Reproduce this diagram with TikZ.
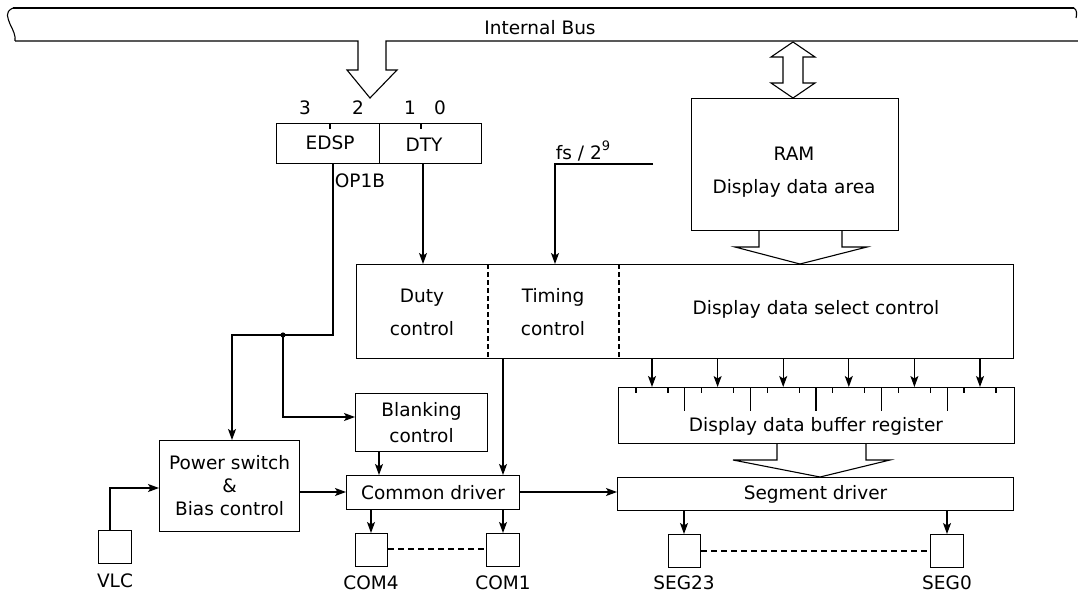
\documentclass[tikz,border=0pt]{standalone}
\usepackage{fontspec}
\setmainfont{DejaVu Sans}
\usetikzlibrary{arrows.meta}
\tikzset{
  ln/.style={line width=1.1pt},
  arr/.style={ln,-{Stealth[length=11pt,width=8pt,inset=2.5pt]}},
  box/.style={draw,ln,rectangle,inner sep=0pt,anchor=north west,align=center},
  txt/.style={inner sep=0pt,align=center},
  fatarrow/.style={ln,fill=white,line join=miter},
}
\begin{document}
\begin{tikzpicture}[x=1pt,y=-1pt,font=\fontsize{18.5}{21}\selectfont]
\useasboundingbox (0,0) rectangle (1078,594);
% internal bus
\draw[ln] (13,8) -- (1074,8);
\draw[ln] (13,8) .. controls (4,12) and (8,18) .. (10,24) .. controls (13,30) and (16,36) .. (15,41);
\draw[ln] (15,41) -- (358,41) -- (358,70) -- (347,70) -- (370,98) -- (397,70) -- (386,70) -- (386,41) -- (1078,41);
\draw[ln] (1074,8) .. controls (1077,10) and (1077,14) .. (1076,18);
\node[txt] (bus) at (540,28) {Internal Bus};
% RAM double arrow
\coordinate (rtop) at (793,42);
\draw[fatarrow] (rtop) -- (815,57) -- (803,57) -- (803,83) -- (815,83) -- (793,98) -- (771,83) -- (783,83) -- (783,57) -- (771,57) -- cycle;
% RAM
\node[box,minimum width=207pt,minimum height=132pt] (ram) at (691,98) {};
\node[txt] (ramt) at (794,154) {RAM};
\node[txt] (ramd) at (794,188) {Display data area};
% OP1B register
\node[box,minimum width=103pt,minimum height=40pt] (edsp) at (276,123) {};
\node[box,minimum width=102pt,minimum height=40pt] (dty) at (379,123) {};
\node[txt] (edspt) at (330,143) {EDSP};
\node[txt] (dtyt) at (424,145) {DTY};
\draw[ln] (330,0 |- edsp.north) -- ++(0,6);
\draw[ln] (421,0 |- dty.north) -- ++(0,6);
\node[txt] (b3) at (305,108) {3};
\node[txt] (b2) at (358,108) {2};
\node[txt] (b1) at (410,108) {1};
\node[txt] (b0) at (440,108) {0};
\node[txt] (op) at (360,181) {OP1B};
% fs
\node[txt] (fs) at (583,151) {fs / 2\raisebox{0.45em}{\fontsize{13}{15}\selectfont 9}};
% control box
\node[box,minimum width=657pt,minimum height=94pt] (ctl) at (356,264) {};
\draw[ln,dashed,dash pattern=on 5pt off 3pt] (488,0 |- ctl.north) -- (488,0 |- ctl.south);
\draw[ln,dashed,dash pattern=on 5pt off 3pt] (619,0 |- ctl.north) -- (619,0 |- ctl.south);
\node[txt] (duty) at (422,312) {Duty\\[12pt]control};
\node[txt] (timing) at (553,312) {Timing\\[12pt]control};
\node[txt] (dsel) at (816,309) {Display data select control};
% arrow RAM -> control
\draw[fatarrow] (759,0 |- ram.south) -- (759,247) -- (735,247) -- (800,0 |- ctl.north) -- (867,247) -- (842,247) -- (842,0 |- ram.south);
% inputs to control
\draw[arr] (423,0 |- dty.south) -- (423,0 |- ctl.north);
\coordinate (fsr) at (653,164);
\draw[arr] (fsr) -- (555,164) -- (555,0 |- ctl.north);
% buffer register
\node[box,minimum width=396pt,minimum height=56pt] (buf) at (618,387) {};
\node[txt] (buft) at (816,426) {Display data buffer register};
\foreach \i in {0,...,5} {
  \pgfmathsetmacro{\xa}{652+65.6*\i}
  \draw[arr] (\xa,0 |- ctl.south) -- (\xa,0 |- buf.north);
  \draw[ln] (\xa-16,0 |- buf.north) -- ++(0,6);
  \draw[ln] (\xa+16,0 |- buf.north) -- ++(0,6);
}
\foreach \i in {0,...,4} {
  \pgfmathsetmacro{\xb}{684.8+65.6*\i}
  \draw[ln] (\xb,0 |- buf.north) -- ++(0,24);
}
% segment driver
\node[box,minimum width=396pt,minimum height=33pt] (seg) at (617,477) {Segment driver};
\draw[fatarrow] (777,0 |- buf.south) -- (777,460) -- (733,460) -- (820,0 |- seg.north) -- (890,460) -- (866,460) -- (866,0 |- buf.south);
% left blocks
\node[box,minimum width=132pt,minimum height=58pt] (blank) at (355,393) {Blanking\\[5pt]control};
\node[box,minimum width=173pt,minimum height=34pt] (com) at (346,475) {Common driver};
\node[box,minimum width=140pt,minimum height=91pt] (pwr) at (159,440) {Power switch\\[2pt]\&\\[2pt]Bias control};
\node[box,minimum width=33pt,minimum height=33pt] (vlc) at (98,530) {};
\node[txt] (vlct) at (115,581) {VLC};
% EDSP lines
\coordinate (dot) at (283,335);
\draw[ln] (333,0 |- edsp.south) -- (333,335) -- (dot);
\draw[arr] (dot) -- (232,335) -- (232,0 |- pwr.north);
\fill (dot) circle (2.6pt);
\draw[arr] (dot) -- (283,417) -- (blank.west |- 0,417);
% other connectors
\draw[arr] (503,0 |- ctl.south) -- (503,0 |- com.north);
\draw[arr] (379,0 |- blank.south) -- (379,0 |- com.north);
\draw[arr] (com.east |- 0,492) -- (seg.west |- 0,492);
\draw[arr] (pwr.east |- 0,492) -- (com.west |- 0,492);
\draw[arr] (110,0 |- vlc.north) -- (110,488) -- (pwr.west |- 0,488);
% COM pins
\node[box,minimum width=32pt,minimum height=33pt] (com4) at (355,533) {};
\node[box,minimum width=33pt,minimum height=33pt] (com1) at (486,533) {};
\draw[arr] (371,0 |- com.south) -- (371,0 |- com4.north);
\draw[arr] (503,0 |- com.south) -- (503,0 |- com1.north);
\draw[ln,dashed,dash pattern=on 6pt off 4pt] (com4.east |- 0,549) -- (com1.west |- 0,549);
\node[txt] (com4t) at (371,583) {COM4};
\node[txt] (com1t) at (503,583) {COM1};
% SEG pins
\node[box,minimum width=32pt,minimum height=33pt] (s23) at (668,534) {};
\node[box,minimum width=33pt,minimum height=33pt] (s0) at (930,534) {};
\draw[arr] (684,0 |- seg.south) -- (684,0 |- s23.north);
\draw[arr] (947,0 |- seg.south) -- (947,0 |- s0.north);
\draw[ln,dashed,dash pattern=on 6pt off 4pt] (s23.east |- 0,551) -- (s0.west |- 0,551);
\node[txt] (s23t) at (684,583) {SEG23};
\node[txt] (s0t) at (947,583) {SEG0};
\end{tikzpicture}
\end{document}
